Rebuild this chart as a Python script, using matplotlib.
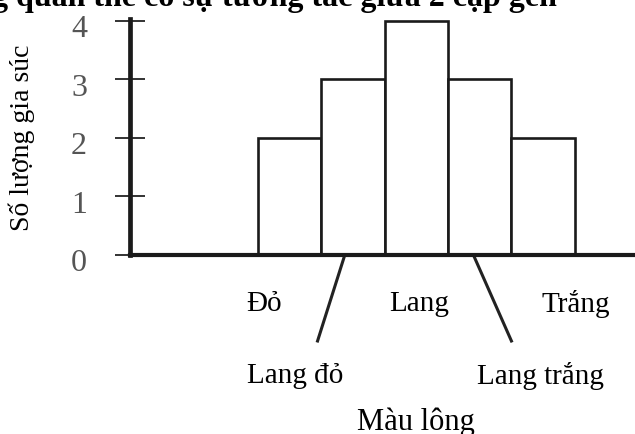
import matplotlib
matplotlib.use("Agg")
import matplotlib.pyplot as plt
from matplotlib.transforms import ScaledTranslation

# data
colours = ["Đỏ", "Lang đỏ", "Lang", "Lang trắng", "Trắng"]
counts = [2, 3, 4, 3, 2]
yticks = [0, 1, 2, 3, 4]

plt.rcParams["font.family"] = ["Liberation Serif", "DejaVu Serif"]

fig = plt.figure(figsize=(6.35, 4.35), dpi=100)
W, H = 635, 435
ax = fig.add_axes([130 / W, (H - 256) / H, (W - 130) / W, 236 / H])

xs = list(range(len(colours)))
ax.bar(xs, counts, width=1.0, color="white", edgecolor="#1a1a1a", linewidth=1.9, zorder=2)
ax.set_xlim(-2.52, 5.45)
ax.set_ylim(0, 4.034)

for s in ("top", "right"):
    ax.spines[s].set_visible(False)
ax.spines["left"].set_linewidth(3.4)
ax.spines["bottom"].set_linewidth(3.0)
ax.spines["left"].set_color("#1a1a1a")
ax.spines["bottom"].set_color("#1a1a1a")

ax.set_xticks([])
ax.set_yticks(yticks)
ax.set_yticklabels([str(v) for v in yticks], fontsize=23, color="#555555")
ax.tick_params(axis="y", direction="inout", length=22, width=1.4, pad=20, colors="#333333",
               labelcolor="#555555")
# the scanned digits sit a little below their ticks
shift = ScaledTranslation(0, -3 / 72, fig.dpi_scale_trans)
for lab in ax.get_yticklabels():
    lab.set_transform(lab.get_transform() + shift)

ax.set_ylabel("Số lượng gia súc", fontsize=20, labelpad=26)

# category labels: upper row for pure colours, lower row for the mixed ones
upper = {0: -0.40, 2: 0.05, 4: 0.52}
lower = {1: -0.91, 3: 0.95}
for i, dx in upper.items():
    ax.text(i + dx, -0.82, colours[i], ha="center", va="center", fontsize=21, clip_on=False)
for i, dx in lower.items():
    ax.text(i + dx, -2.05, colours[i], ha="center", va="center", fontsize=21, clip_on=False)

# leader lines from the baseline down to the lower labels
ax.plot([0.87, 0.44], [0, -1.47], color="#222222", lw=2.2, clip_on=False)
ax.plot([2.90, 3.50], [0, -1.47], color="#222222", lw=2.2, clip_on=False)

fig.text(416 / W, (H - 422) / H, "Màu lông", ha="center", va="center", fontsize=22)

# title is cropped at the top edge in the scan
fig.text(557 / W, (H - 6) / H, "Phân bố màu lông trong quần thể có sự tương tác giữa 2 cặp gen",
         ha="right", va="baseline", fontsize=23, fontweight="bold")

fig.savefig("out.png", dpi=100)
